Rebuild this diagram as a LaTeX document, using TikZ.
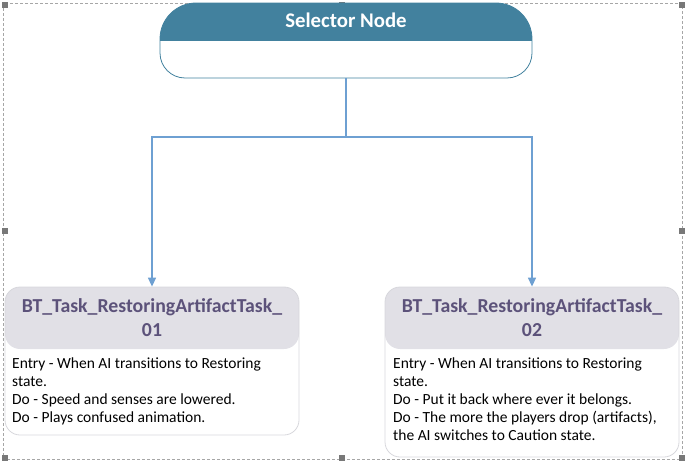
\documentclass[tikz,border=0pt]{standalone}
\usepackage{fontspec}
\setmainfont{Carlito}
\usetikzlibrary{arrows.meta}
\definecolor{selteal}{RGB}{66,129,158}
\definecolor{connc}{RGB}{110,160,210}
\definecolor{hdrgray}{RGB}{225,224,230}
\definecolor{titlec}{RGB}{92,82,122}
\definecolor{boxline}{RGB}{215,215,220}
\definecolor{handlec}{RGB}{120,120,120}
\begin{document}
\begin{tikzpicture}[x=1pt,y=1pt,
 taskbox/.style={draw=boxline, line width=0.8pt, rounded corners=15pt, minimum width=294pt, inner sep=0pt,
   path picture={\fill[hdrgray] (path picture bounding box.north west) rectangle ([yshift=-62pt]path picture bounding box.north east);}},
 ttl/.style={font=\fontsize{19.8}{24}\selectfont\bfseries, text=titlec, align=center, anchor=north, inner sep=0pt},
 body/.style={font=\fontsize{15.5}{18}\selectfont, align=left, anchor=north west, inner sep=0pt},
 connl/.style={draw=connc, line width=1.5pt},
 conna/.style={connl, -{Triangle[length=9pt,width=8pt]}},
 hnd/.style={fill=handlec, minimum size=6pt, inner sep=0pt}
]
\useasboundingbox (0,0) rectangle (685,-465);
\draw[gray!70, dash pattern=on 3pt off 2pt, line width=0.8pt] (3,-3) rectangle (682,-459);
% selection handles
\node[hnd] (h1) at (5,-5) {};
\node[hnd] (h2) at (342,-5) {};
\node[hnd] (h3) at (682,-5) {};
\node[hnd] (h4) at (5,-231) {};
\node[hnd] (h5) at (682,-231) {};
\node[hnd] (h6) at (5,-458) {};
\node[hnd] (h7) at (342,-458) {};
\node[hnd] (h8) at (682,-458) {};
% selector node
\node[minimum width=372pt, minimum height=75pt, inner sep=0pt] (sel) at (346,-40.5) {};
\begin{scope}
\clip (160,-39) arc(180:90:36) -- (496,-3) arc(90:0:36) -- (532,-53) arc(0:-90:25) -- (185,-78) arc(270:180:25) -- cycle;
\fill[selteal] (160,-3) rectangle (532,-41);
\end{scope}
\draw[selteal, line width=0.8pt] (160,-39) arc(180:90:36) -- (496,-3) arc(90:0:36) -- (532,-53) arc(0:-90:25) -- (185,-78) arc(270:180:25) -- cycle;
\node[font=\fontsize{20.8}{24}\selectfont\bfseries, text=white, anchor=base, inner sep=0pt] (seltxt) at (346,-28) {Selector Node};
% task boxes
\node[taskbox, minimum height=148pt] (t1) at (152,-361) {};
\node[taskbox, minimum height=170pt] (t2) at (532,-372) {};
\node[ttl] (t1t) at (152,-298.5) {BT\_Task\_RestoringArtifactTask\_\\01};
\node[ttl] (t2t) at (532,-298.5) {BT\_Task\_RestoringArtifactTask\_\\02};
\node[body] (t1b) at (12,-358) {Entry - When AI transitions to Restoring\\state.\\Do - Speed and senses are lowered.\\Do - Plays confused animation.};
\node[body] (t2b) at (393,-358) {Entry - When AI transitions to Restoring\\state.\\Do - Put it back where ever it belongs.\\Do - The more the players drop (artifacts),\\the AI switches to Caution state.};
% connectors
\coordinate (j) at (346,-137);
\draw[connl] (sel.south) -- (j);
\draw[conna] (j) -| (t1.north);
\draw[conna] (j) -| (t2.north);
\end{tikzpicture}
\end{document}
